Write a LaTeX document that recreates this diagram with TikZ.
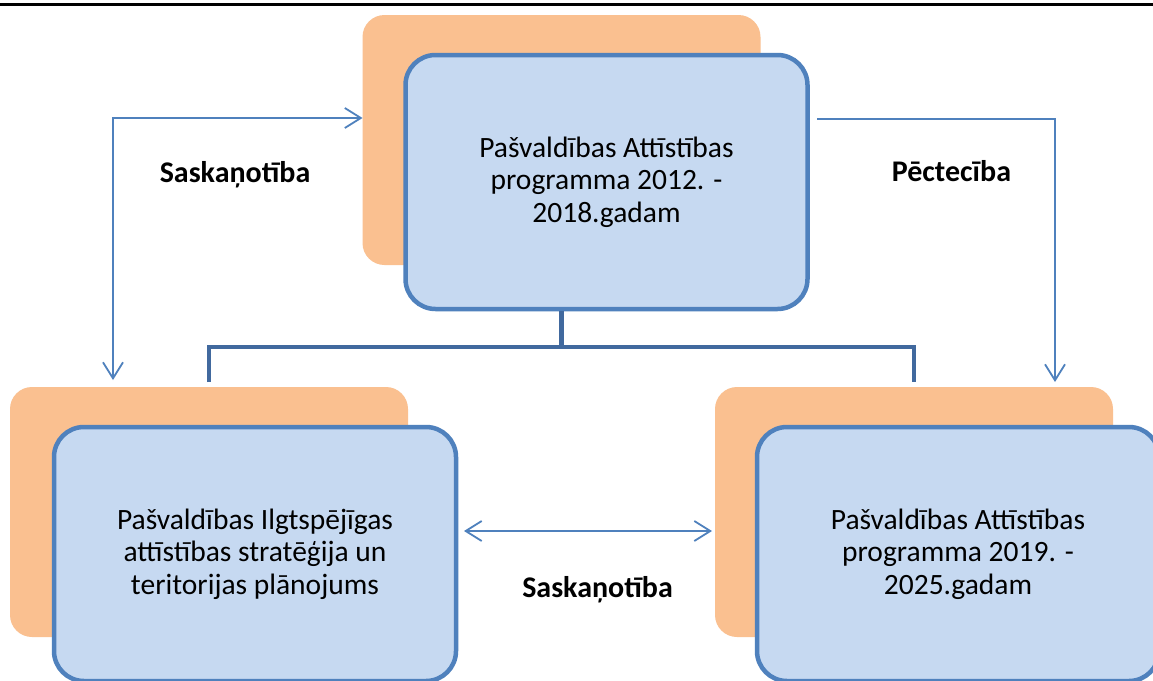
\documentclass[tikz,border=0pt]{standalone}
\usepackage{fontspec}
\setmainfont{Carlito}
\usetikzlibrary{arrows.meta,calc}
\definecolor{orangeF}{HTML}{FAC090}
\definecolor{blueF}{HTML}{C6D9F1}
\definecolor{blueD}{HTML}{4F81BD}
\definecolor{treeC}{HTML}{41699E}
\begin{document}
\begin{tikzpicture}[x=1pt,y=-1pt,
  backbox/.style={fill=orangeF, draw=none, rounded corners=22pt, minimum width=398pt, minimum height=250pt, inner sep=0pt, outer sep=0pt},
  frontbox/.style={fill=blueF, draw=blueD, line width=4.5pt, rounded corners=30pt, minimum width=402pt, minimum height=254pt, inner sep=0pt, outer sep=0pt, align=center, font=\fontsize{29.5}{32.5}\selectfont},
  tree/.style={draw=treeC, line width=4.7pt, line join=miter},
  conn/.style={draw=blueD, line width=1.8pt, arrows={-Straight Barb[length=16pt,width=20pt,line width=1.8pt]}},
  lbl/.style={font=\fontsize{30}{34}\selectfont\bfseries, anchor=base, inner sep=0pt}
]
\useasboundingbox (0,0) rectangle (1153,680);
\clip (0,0) rectangle (1153,680);
\fill[white] (0,0) rectangle (1153,680);
\draw[line width=3.5pt] (0,4.5) -- (1153,4.5);

% boxes
\node[backbox] (topor) at (561.5,140) {};
\node[frontbox] (topbl) at (606.5,182) {Pašvaldības Attīstības\\programma 2012. -\\2018.gadam};
\node[backbox] (blor) at (209,512) {};
\node[frontbox] (blbl) at (255,554) {Pašvaldības Ilgtspējīgas\\attīstības stratēģija un\\teritorijas plānojums};
\node[backbox] (bror) at (914,512) {};
\node[frontbox] (brbl) at (958,554) {Pašvaldības Attīstības\\programma 2019. -\\2025.gadam};

% tree connector
\coordinate (hub) at (561.5,347);
\draw[tree, shorten <=2.25pt] (topor.center |- topbl.south) -- (hub);
\draw[tree] ([yshift=5pt]blor.north) |- (hub) -| ([yshift=5pt]bror.north);

% arrows
\coordinate (lc) at (113,118);
\draw[conn, arrows={Straight Barb[length=16pt,width=20pt,line width=1.8pt]-Straight Barb[length=16pt,width=20pt,line width=1.8pt]}, shorten <=7pt]
  (lc |- blor.north) -- (lc) -- (topor.west |- lc);
\coordinate (rc) at (1055,119);
\draw[conn, shorten <=9.75pt, shorten >=5pt] (topbl.east |- rc) -- (rc) -- (rc |- bror.north);
\coordinate (mc) at (600,531);
\draw[conn, arrows={Straight Barb[length=16pt,width=20pt,line width=1.8pt]-Straight Barb[length=16pt,width=20pt,line width=1.8pt]}, shorten <=8pt, shorten >=3pt]
  (blbl.east |- mc) -- (bror.west |- mc);

% labels
\node[lbl] (l1) at (235,182) {Saskaņotība};
\node[lbl] (l2) at (951.5,181) {Pēctecība};
\node[lbl] (l3) at (597.5,597) {Saskaņotība};
\end{tikzpicture}
\end{document}
